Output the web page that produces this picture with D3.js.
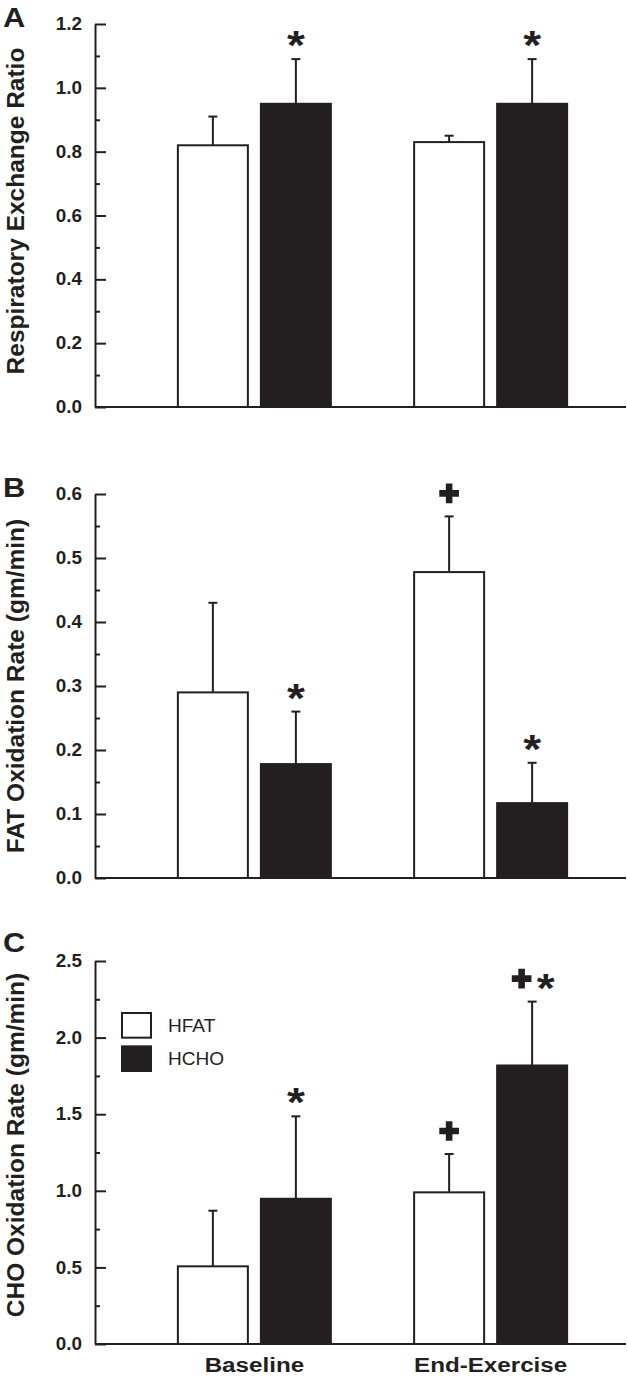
<!DOCTYPE html>
<html><head><meta charset="utf-8">
<script src="https://cdn.jsdelivr.net/npm/d3@7/dist/d3.min.js"></script>
<style>
html,body{margin:0;padding:0;background:#fff;}
text{font-family:"Liberation Sans",Arial,sans-serif;fill:#231f20;}
</style></head>
<body>
<svg id="chart" width="627" height="1383"></svg>
<script>
// ---------- data ----------
const categories = ["Baseline", "End-Exercise"];
const series = ["HFAT", "HCHO"];

// Panel A: Respiratory Exchange Ratio
const rerHFAT = [0.82, 0.83];
const rerHFATerr = [0.09, 0.02];
const rerHCHO = [0.95, 0.95];
const rerHCHOerr = [0.14, 0.14];
const rerMarksHFAT = ["", ""];
const rerMarksHCHO = ["*", "*"];
const rerTicks = [0.0, 0.2, 0.4, 0.6, 0.8, 1.0, 1.2];
const rerMinor = [0.1, 0.3, 0.5, 0.7, 0.9, 1.1];

// Panel B: FAT oxidation rate
const fatHFAT = [0.29, 0.478];
const fatHFATerr = [0.14, 0.087];
const fatHCHO = [0.178, 0.117];
const fatHCHOerr = [0.082, 0.063];
const fatMarksHFAT = ["", "+"];
const fatMarksHCHO = ["*", "*"];
const fatTicks = [0.0, 0.1, 0.2, 0.3, 0.4, 0.5, 0.6];
const fatMinor = [0.05, 0.15, 0.25, 0.35, 0.45, 0.55];

// Panel C: CHO oxidation rate
const choHFAT = [0.507, 0.99];
const choHFATerr = [0.363, 0.25];
const choHCHO = [0.948, 1.818];
const choHCHOerr = [0.538, 0.417];
const choMarksHFAT = ["", "+"];
const choMarksHCHO = ["*", "+*"];
const choTicks = [0.0, 0.5, 1.0, 1.5, 2.0, 2.5];
const choMinor = [0.25, 0.75, 1.25, 1.75, 2.25];

// ---------- layout ----------
const INK = "#231f20";
const svg = d3.select("#chart");
const plotLeft = 95, plotRight = 626;

const panels = [
  {letter: "A", label: "Respiratory Exchange Ratio", top: 24, bottom: 407, labelY: 211, letterY: 27,
   hfat: rerHFAT, hfatErr: rerHFATerr, hcho: rerHCHO, hchoErr: rerHCHOerr,
   mHfat: rerMarksHFAT, mHcho: rerMarksHCHO, ticks: rerTicks, minor: rerMinor, showX: false},
  {letter: "B", label: "FAT Oxidation Rate (gm/min)", top: 494, bottom: 878, labelY: 686, letterY: 497,
   hfat: fatHFAT, hfatErr: fatHFATerr, hcho: fatHCHO, hchoErr: fatHCHOerr,
   mHfat: fatMarksHFAT, mHcho: fatMarksHCHO, ticks: fatTicks, minor: fatMinor, showX: false},
  {letter: "C", label: "CHO Oxidation Rate (gm/min)", top: 961, bottom: 1344, labelY: 1145, letterY: 952,
   hfat: choHFAT, hfatErr: choHFATerr, hcho: choHCHO, hchoErr: choHCHOerr,
   mHfat: choMarksHFAT, mHcho: choMarksHCHO, ticks: choTicks, minor: choMinor, showX: true, legend: true}
];

const x0 = d3.scaleBand().domain(categories).range([136.25, 608.75]).padding(0);
const x1 = d3.scaleBand().domain(series).range([-77.5, 77.5]).paddingInner(0.1325);
const fills = {HFAT: "#ffffff", HCHO: INK};

panels.forEach(p => {
  const yMax = p.ticks[p.ticks.length - 1];
  const y = d3.scaleLinear().domain([0, yMax]).range([p.bottom, p.top]);
  const g = svg.append("g");

  // panel letter
  g.append("text").attr("transform", `translate(14,${p.letterY}) scale(1.1,1)`)
    .attr("text-anchor", "middle").attr("font-weight", "bold").attr("font-size", 28).text(p.letter);

  // y label
  g.append("text").attr("transform", `translate(24,${p.labelY}) rotate(-90)`)
    .attr("text-anchor", "middle").attr("font-weight", "bold").attr("font-size", 24.5).text(p.label);

  // minor ticks
  const minorAx = g.append("g").attr("transform", `translate(${plotLeft},0)`)
    .call(d3.axisLeft(y).tickValues(p.minor).tickSize(-5).tickFormat(""));
  minorAx.select(".domain").remove();
  minorAx.selectAll("line").attr("stroke", INK).attr("stroke-width", 2);

  // major axis
  const ax = g.append("g").attr("transform", `translate(${plotLeft},0)`)
    .call(d3.axisLeft(y).tickValues(p.ticks).tickSizeInner(-11).tickSizeOuter(0).tickPadding(13).tickFormat(d3.format(".1f")));
  ax.select(".domain").attr("stroke", INK).attr("stroke-width", 2);
  ax.selectAll(".tick line").attr("stroke", INK).attr("stroke-width", 2);
  ax.selectAll(".tick text").each(function() {
    const t = d3.select(this);
    const xx = +t.attr("x");
    t.attr("x", null).attr("transform", `translate(${xx},0) scale(1.08,1)`);
  }).attr("font-family", "Liberation Sans, Arial, sans-serif").attr("font-weight", "bold")
    .attr("font-size", 17.5).attr("fill", INK);

  // baseline
  g.append("line").attr("x1", plotLeft).attr("x2", plotRight).attr("y1", y(0)).attr("y2", y(0))
    .attr("stroke", INK).attr("stroke-width", 2);

  const rows = [];
  categories.forEach((c, i) => {
    rows.push({cat: c, s: "HFAT", v: p.hfat[i], e: p.hfatErr[i], m: p.mHfat[i]});
    rows.push({cat: c, s: "HCHO", v: p.hcho[i], e: p.hchoErr[i], m: p.mHcho[i]});
  });
  const cx = d => x0(d.cat) + x0.bandwidth() / 2 + x1(d.s) + x1.bandwidth() / 2;

  // error bars
  const eb = g.selectAll(".err").data(rows).enter().append("g");
  eb.append("line").attr("x1", cx).attr("x2", cx).attr("y1", d => y(d.v)).attr("y2", d => y(d.v + d.e))
    .attr("stroke", INK).attr("stroke-width", 2);
  eb.append("line").attr("x1", d => cx(d) - 4.5).attr("x2", d => cx(d) + 4.5)
    .attr("y1", d => y(d.v + d.e)).attr("y2", d => y(d.v + d.e))
    .attr("stroke", INK).attr("stroke-width", 2);

  // bars
  g.selectAll(".bar").data(rows).enter().append("rect")
    .attr("x", d => x0(d.cat) + x0.bandwidth() / 2 + x1(d.s) + 1)
    .attr("width", x1.bandwidth() - 2)
    .attr("y", d => y(d.v))
    .attr("height", d => y(0) - y(d.v))
    .attr("fill", d => fills[d.s]).attr("stroke", INK).attr("stroke-width", 2);

  // markers
  rows.filter(d => d.m).forEach(d => {
    const chars = d.m.split("");
    const my = y(d.v + d.e) - 23;
    const w = {"+": 21, "*": 15};
    const gap = 6;
    const total = d3.sum(chars, c => w[c]) + gap * (chars.length - 1);
    let xx = cx(d) - total / 2;
    chars.forEach(c => {
      const mc = xx + w[c] / 2;
      if (c === "+") {
        g.append("path").attr("d", d3.symbol(d3.symbolCross, 215)())
          .attr("transform", `translate(${mc},${my})`).attr("fill", INK);
      } else {
        g.append("text").attr("transform", `translate(${mc},${my + 23}) scale(1.15,1)`)
          .attr("text-anchor", "middle").attr("font-weight", "bold").attr("font-size", 40).text("*");
      }
      xx += w[c] + gap;
    });
  });

  if (p.showX) {
    const xa = g.append("g").attr("transform", `translate(0,${p.bottom})`)
      .call(d3.axisBottom(x0).tickSize(0).tickPadding(0));
    xa.select(".domain").remove();
    xa.selectAll(".tick text").attr("y", null).attr("dy", null)
      .attr("transform", `translate(0,28) scale(1.18,1)`)
      .attr("font-family", "Liberation Sans, Arial, sans-serif")
      .attr("font-weight", "bold").attr("font-size", 20.5).attr("fill", INK);
  }

  if (p.legend) {
    const lg = g.append("g");
    const ly = d3.scaleBand().domain(series).range([1012, 1072]).paddingInner(0.2);
    series.forEach(s => {
      lg.append("rect").attr("x", 122).attr("y", ly(s) + 1).attr("width", 29).attr("height", ly.bandwidth() - 2)
        .attr("fill", fills[s]).attr("stroke", INK).attr("stroke-width", 2);
      lg.append("text").attr("transform", `translate(168,${ly(s) + ly.bandwidth() / 2 + 6.5}) scale(1.09,1)`)
        .attr("font-size", 17.5).text(s);
    });
  }
});
</script>
</body></html>
